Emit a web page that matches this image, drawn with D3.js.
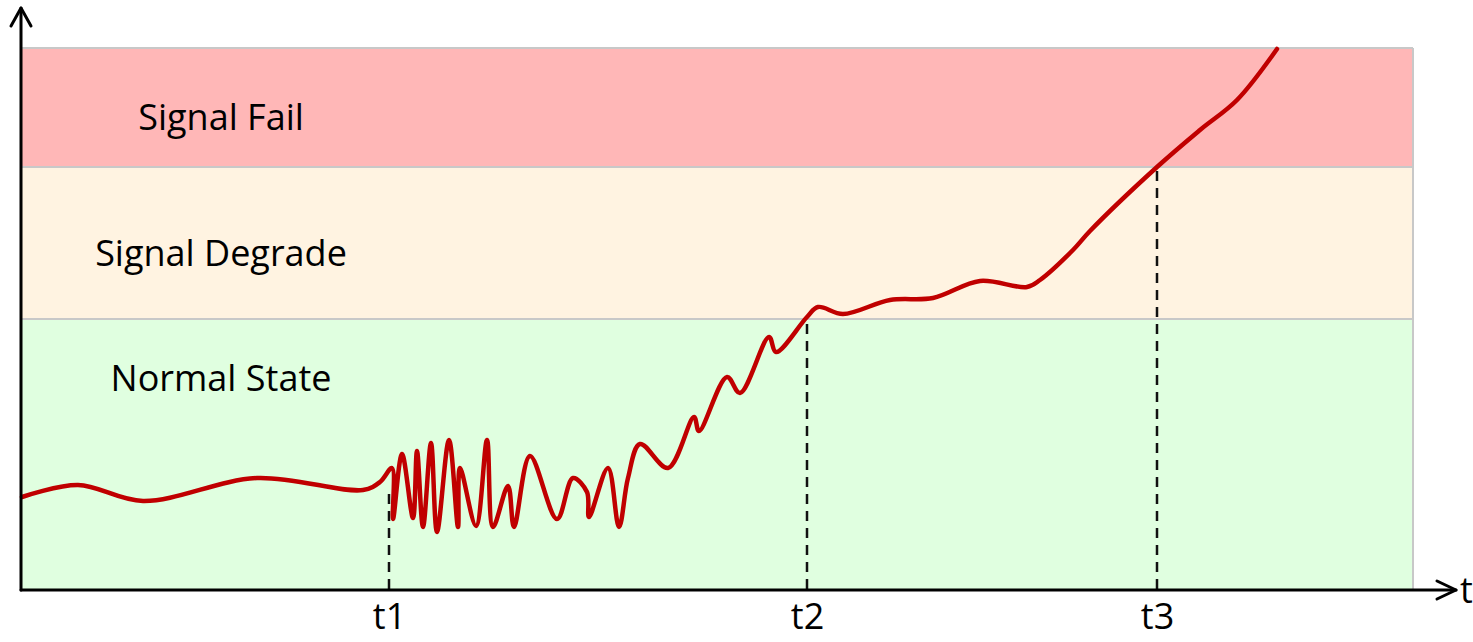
<!DOCTYPE html>
<html>
<head>
<meta charset="utf-8">
<script src="https://cdn.jsdelivr.net/npm/d3@7"></script>
<style>
  html, body { margin: 0; padding: 0; background: #fff; }
  svg { display: block; }
</style>
</head>
<body>
<svg id="chart"></svg>
<script>
// threshold bands (level units), bottom to top
const bandNames = ["Normal State", "Signal Degrade", "Signal Fail"];
const bandLow = [0, 27, 42.2];
const bandHigh = [27, 42.2, 54.1];
const bandColors = ["#e0ffe0", "#fff3e1", "#ffb7b7"];

// time marks on the x axis
const tickLabels = ["t1", "t2", "t3"];
const tickTimes = [36.7, 78.5, 113.5];
const tickLevels = [9.9, 27.2, 42.2];

// signal trace
const signalTime = [
  0, 5.6, 12.1, 23.5, 34.1, 35.8, 37.0, 37.1, 38.0, 39.1, 39.5, 40.1, 40.9,
  41.5, 42.7, 43.6, 43.8, 45.4, 46.5, 47.1, 48.6, 49.2, 50.8, 53.5, 55.1,
  56.5, 56.7, 58.6, 59.7, 60.6, 61.8, 64.6, 67.2, 67.7, 70.5, 71.8, 74.7,
  75.4, 78.5, 79.6, 82.1, 86.8, 91.1, 95.8, 100.5, 101.8, 105.1, 106.8,
  113.5, 117.8, 121.5, 125.5
];
const signalLevel = [
  9.2, 10.4, 8.8, 11.1, 9.9, 10.7, 12.1, 7.0, 13.5, 7.1, 13.8, 6.2, 14.6,
  5.7, 14.9, 6.2, 12.1, 6.3, 14.9, 6.2, 10.3, 6.2, 13.3, 7.0, 11.1,
  9.7, 7.2, 12.1, 6.2, 11.1, 14.5, 12.1, 17.2, 15.8, 21.2, 19.6, 25.2,
  23.7, 27.2, 28.2, 27.5, 28.9, 29.1, 30.8, 30.2, 30.9, 33.9, 35.8,
  42.2, 45.9, 48.9, 54.0
];

let width = 1473;
let height = 642;
let margin = { top: 48, right: 60, bottom: 53, left: 22 };
let font = "'Open Sans', 'Noto Sans', sans-serif";
let fontSize = 36;

let svg = d3.select("#chart").attr("width", width).attr("height", height);

let x = d3
  .scaleLinear()
  .domain([0, 139.1])
  .range([margin.left, width - margin.right]);

let y = d3
  .scaleLinear()
  .domain([0, 54.1])
  .range([height - margin.bottom, margin.top]);

let bands = bandNames.map((name, i) => ({
  name: name,
  low: bandLow[i],
  high: bandHigh[i],
  color: bandColors[i]
}));

// coloured bands
svg
  .append("g")
  .selectAll("rect")
  .data(bands)
  .enter()
  .append("rect")
  .attr("x", x(0))
  .attr("y", (d) => y(d.high))
  .attr("width", x(139.1) - x(0))
  .attr("height", (d) => y(d.low) - y(d.high))
  .attr("fill", (d) => d.color);

// grey borders between bands
let borders = svg.append("g").attr("stroke", "#c8c8c8").attr("stroke-width", 2);
borders
  .selectAll("line.h")
  .data(bandHigh)
  .enter()
  .append("line")
  .attr("class", "h")
  .attr("x1", x(0))
  .attr("x2", x(139.1))
  .attr("y1", (d) => y(d))
  .attr("y2", (d) => y(d));
borders
  .append("line")
  .attr("x1", x(139.1))
  .attr("x2", x(139.1))
  .attr("y1", y(0))
  .attr("y2", y(54.1));

// band labels: upper bands sit a bit below centre, normal label near the top of its band
svg
  .append("g")
  .selectAll("text")
  .data(bands)
  .enter()
  .append("text")
  .attr("x", 221)
  .attr("y", (d) =>
    d.low === 0 ? y(d.high) + 59 : (y(d.low) + y(d.high)) / 2 + 10
  )
  .attr("dy", "0.35em")
  .attr("text-anchor", "middle")
  .attr("font-family", font)
  .attr("font-size", fontSize)
  .attr("fill", "#000")
  .text((d) => d.name);

// dashed drop lines
svg
  .append("g")
  .selectAll("line")
  .data(tickTimes)
  .enter()
  .append("line")
  .attr("x1", (d) => x(d))
  .attr("x2", (d) => x(d))
  .attr("y1", y(0))
  .attr("y2", (d, i) => y(tickLevels[i]))
  .attr("stroke", "#111")
  .attr("stroke-width", 2.5)
  .attr("stroke-dasharray", "10,7");

// signal
let points = signalTime.map((t, i) => [t, signalLevel[i]]);
let line = d3
  .line()
  .x((d) => x(d[0]))
  .y((d) => y(d[1]))
  .curve(d3.curveCatmullRom.alpha(0.5));

svg
  .append("path")
  .datum(points)
  .attr("d", line)
  .attr("fill", "none")
  .attr("stroke", "#c00000")
  .attr("stroke-width", 4.5)
  .attr("stroke-linejoin", "round")
  .attr("stroke-linecap", "round");

// x axis tick labels
let xAxis = d3
  .axisBottom(x)
  .tickValues(tickTimes)
  .tickSize(0)
  .tickPadding(13)
  .tickFormat((d, i) => tickLabels[i]);

let gx = svg
  .append("g")
  .attr("transform", "translate(0," + (y(0) + 1) + ")")
  .call(xAxis);
gx.select(".domain").remove();
gx.selectAll("text")
  .attr("font-family", font)
  .attr("font-size", fontSize)
  .attr("fill", "#000");

// axis lines with open arrow heads
let axes = svg
  .append("g")
  .attr("fill", "none")
  .attr("stroke", "#000")
  .attr("stroke-width", 3)
  .attr("stroke-linecap", "round")
  .attr("stroke-linejoin", "round");

let ox = x(0) - 1;
let oy = y(0) + 1;
let xEnd = width - 17;
let yEnd = 8;

axes.append("line").attr("x1", ox).attr("y1", oy).attr("x2", xEnd).attr("y2", oy);
axes.append("line").attr("x1", ox).attr("y1", oy).attr("x2", ox).attr("y2", yEnd);
axes
  .append("path")
  .attr("d", "M" + (xEnd - 19) + "," + (oy - 9) + "L" + xEnd + "," + oy + "L" + (xEnd - 19) + "," + (oy + 9));
axes
  .append("path")
  .attr("d", "M" + (ox - 10) + "," + (yEnd + 18) + "L" + ox + "," + yEnd + "L" + (ox + 10) + "," + (yEnd + 18));

svg
  .append("text")
  .attr("x", xEnd + 4)
  .attr("y", oy + 13)
  .attr("font-family", font)
  .attr("font-size", fontSize)
  .attr("fill", "#000")
  .text("t");
</script>
</body>
</html>
